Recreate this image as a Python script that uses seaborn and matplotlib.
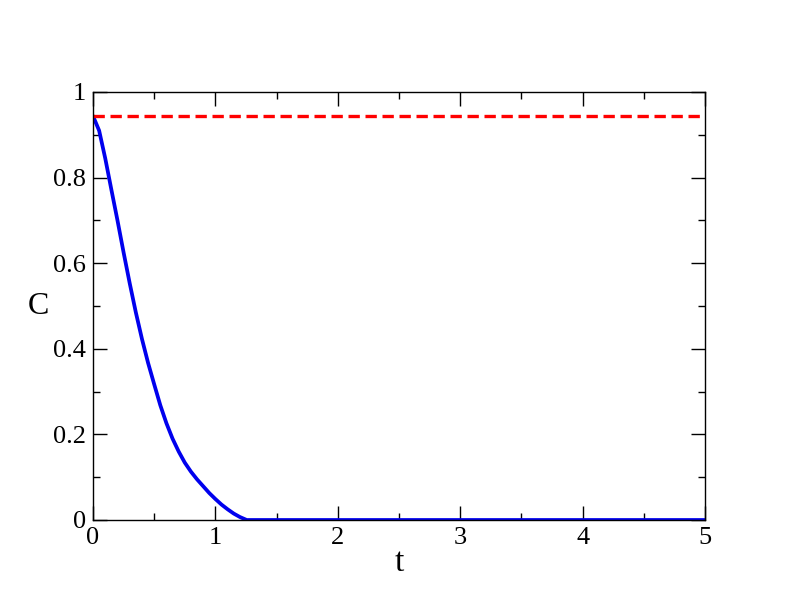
import numpy as np
import pandas as pd
import matplotlib
matplotlib.use("Agg")
import matplotlib.pyplot as plt
import seaborn as sns

# data
t = [0, 0.05, 0.1, 0.15, 0.2, 0.25, 0.3, 0.35, 0.4, 0.45, 0.5, 0.55, 0.6, 0.65,
     0.7, 0.75, 0.8, 0.85, 0.9, 0.95, 1.0, 1.05, 1.1, 1.15, 1.2, 1.256, 2, 3, 4, 5]
c = [0.944, 0.91, 0.845, 0.772, 0.700, 0.625, 0.553, 0.485, 0.423, 0.367, 0.317, 0.268,
     0.226, 0.190, 0.160, 0.134, 0.113, 0.095, 0.079, 0.063, 0.049, 0.036, 0.025, 0.015,
     0.007, 0, 0, 0, 0, 0]
c_ref = 0.944
x_ticks = [0, 1, 2, 3, 4, 5]
y_ticks = [0, 0.2, 0.4, 0.6, 0.8, 1]
y_labels = ["0", "0.2", "0.4", "0.6", "0.8", "1"]

sns.set_style("ticks")
plt.rcParams["font.family"] = ["Liberation Serif", "DejaVu Serif"]
plt.rcParams["text.color"] = "black"
plt.rcParams["axes.labelcolor"] = "black"
plt.rcParams["xtick.labelcolor"] = "black"
plt.rcParams["ytick.labelcolor"] = "black"

df = pd.DataFrame({"t": t, "C": c})

fig = plt.figure(figsize=(7.92, 6.12), dpi=100)
ax = fig.add_axes([93 / 792, 1 - 520 / 612, 612 / 792, 428 / 612])

sns.lineplot(data=df, x="t", y="C", ax=ax, color="#0000ee", linewidth=2.7)
ax.axhline(c_ref, color="#ff0000", linewidth=2.4, dashes=(3.4, 1.7))

ax.set_xlim(0, 5)
ax.set_ylim(0, 1)
ax.set_xticks(x_ticks)
ax.set_yticks(y_ticks)
ax.set_yticklabels(y_labels)
ax.set_xticks(np.arange(0.5, 5, 1), minor=True)
ax.set_yticks(np.arange(0.1, 1, 0.2), minor=True)
ax.tick_params(which="both", direction="in", top=True, right=True, labelsize=19, width=1, color="black")
ax.tick_params(which="major", length=10, pad=5)
ax.tick_params(which="minor", length=5)
for s in ax.spines.values():
    s.set_linewidth(1)
    s.set_color("black")

ax.set_xlabel("")
ax.set_ylabel("")
fig.text(399 / 792, 1 - 563 / 612, "t", fontsize=24, ha="center", va="center")
fig.text(38 / 792, 1 - 307 / 612, "C", fontsize=23, ha="center", va="center")

fig.savefig("out.png", dpi=100)
